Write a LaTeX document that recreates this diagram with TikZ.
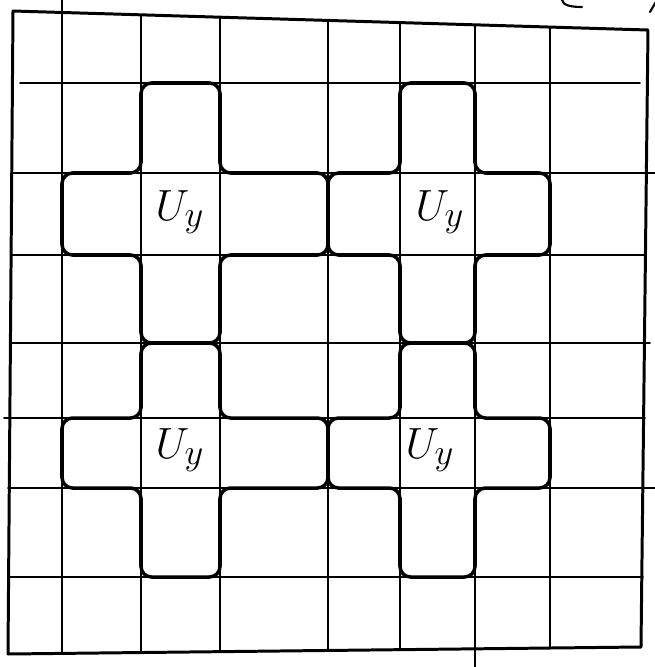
\documentclass[tikz,border=0pt]{standalone}
\usepackage{amsmath}
\usetikzlibrary{calc}
\tikzset{
  frame/.style={line width=1.7pt, line join=round},
  gridline/.style={line width=1pt, line cap=round},
  piece/.style={line width=2pt, rounded corners=6pt, line join=round},
  tag/.style={font=\Huge, inner sep=0pt},
  stray/.style={line width=1.2pt, line cap=round}
}

\begin{document}
\begin{tikzpicture}[x=0.02cm, y=-0.02cm]
  \useasboundingbox (0,0) rectangle (655,667);

  % Outer frame
  \coordinate (TL) at (13,11);
  \coordinate (TR) at (648,30);
  \coordinate (BR) at (641,647);
  \coordinate (BL) at (8,654);
  \draw[frame] (TL) -- (TR) -- (BR) -- (BL) -- cycle;

  % Grid lines
  \foreach \x/\ya/\yb in {62/0/653, 141/15/652, 220/17/651, 328/20/651,
                          400/23/649, 475/25/667, 550/27/648}
    \draw[gridline] (\x,\ya) -- (\x,\yb);
  \foreach \y/\xa/\xb in {83/20/640, 173/12/655, 255/12/645, 343/10/650,
                          418/4/645, 488/8/655, 577/8/643}
    \draw[gridline] (\xa,\y) -- (\xb,\y);

  % Cross-shaped pieces
  \foreach \xa/\xb/\xc/\xd/\ya/\yb/\yc/\yd in {62/141/220/328/83/173/255/343,
                                              328/400/475/550/83/173/255/343,
                                              62/141/220/328/343/418/488/577,
                                              328/400/475/550/343/418/488/577}
    \draw[piece] (\xb,\ya) -- (\xc,\ya) -- (\xc,\yb) -- (\xd,\yb) -- (\xd,\yc)
      -- (\xc,\yc) -- (\xc,\yd) -- (\xb,\yd) -- (\xb,\yc) -- (\xa,\yc)
      -- (\xa,\yb) -- (\xb,\yb) -- cycle;

  % Labels
  \node[tag] (uA) at (180,212) {$U_y$};
  \node[tag] (uB) at (440,212) {$U_y$};
  \node[tag] (uC) at (180,450) {$U_y$};
  \node[tag] (uD) at (430,450) {$U_y$};

  % Cut-off marks at the top edge
  \draw[stray] (562,0) .. controls (563,5) and (570,7) .. (582,7);
  \draw[stray] (657,0) -- (650,12);
\end{tikzpicture}
\end{document}
